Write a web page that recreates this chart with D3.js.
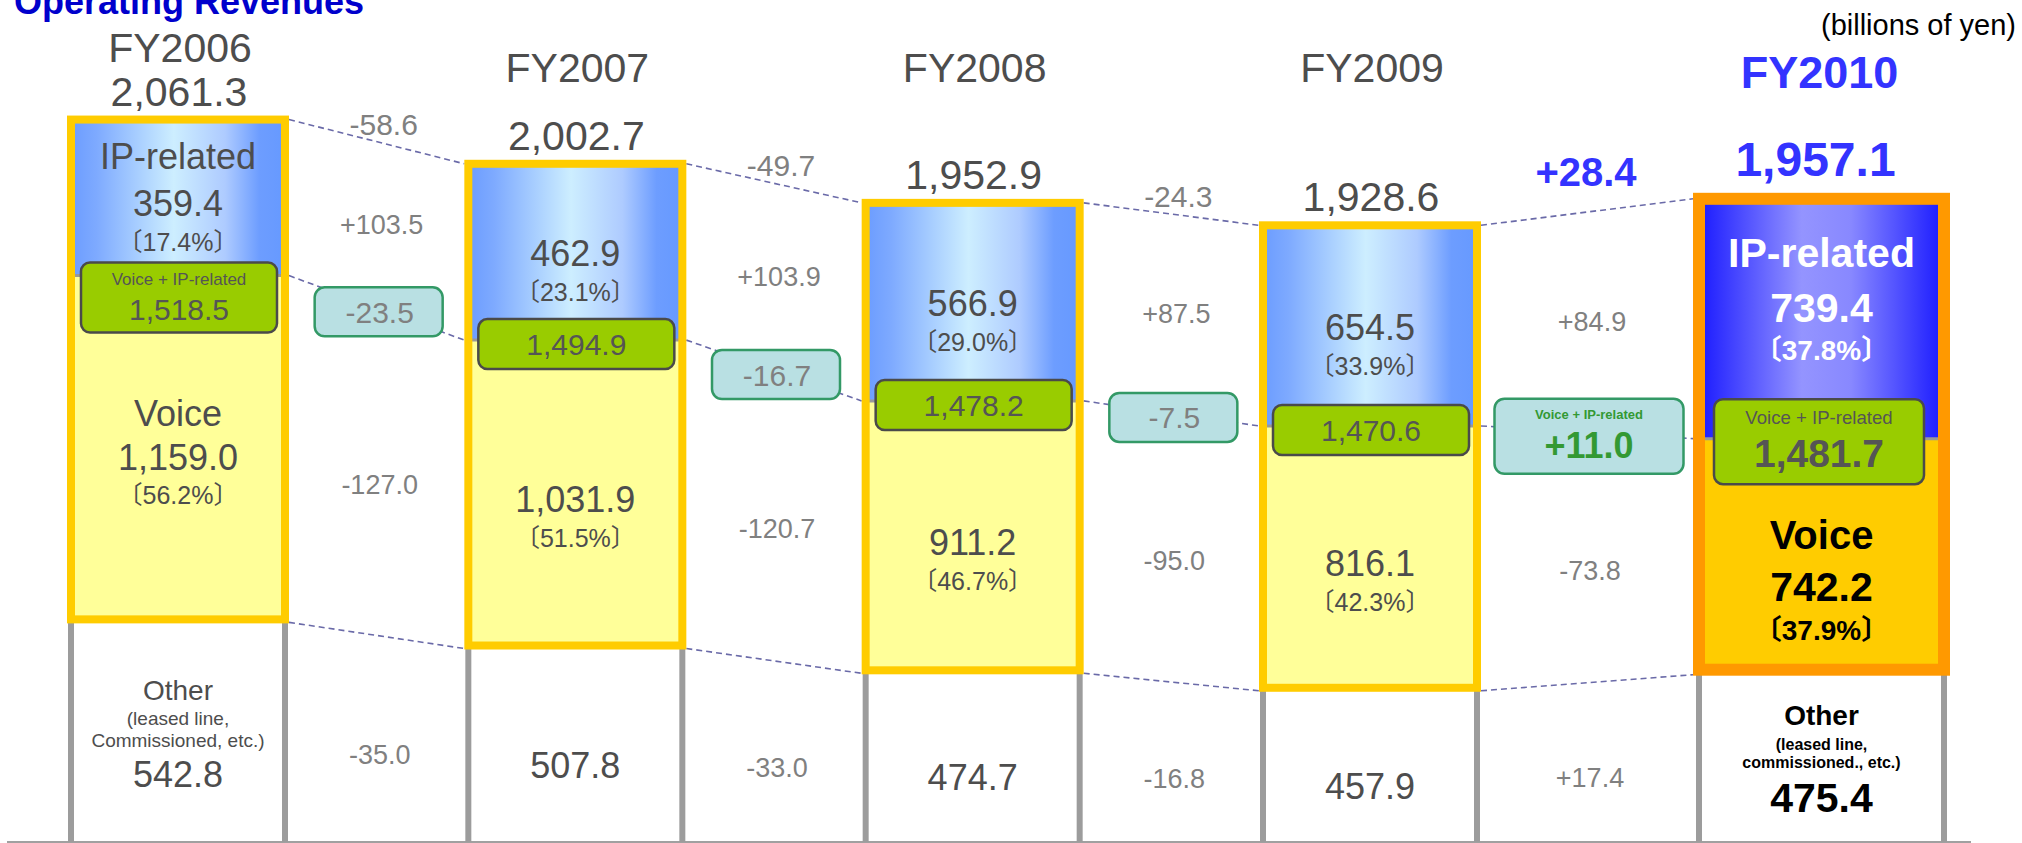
<!DOCTYPE html>
<html>
<head>
<meta charset="utf-8">
<script src="https://cdn.jsdelivr.net/npm/d3@7"></script>
<style>
body { margin: 0; background: #fff; }
svg { display: block; font-family: "Liberation Sans", Arial, "Noto Sans CJK JP", sans-serif; }
</style>
</head>
<body>
<div id="chart"></div>
<script>
var width = 2022,
    height = 843;

var years = ["FY2006", "FY2007", "FY2008", "FY2009", "FY2010"];
var totals = [2061.3, 2002.7, 1952.9, 1928.6, 1957.1];
var ipRelated = [359.4, 462.9, 566.9, 654.5, 739.4];
var voice = [1159.0, 1031.9, 911.2, 816.1, 742.2];
var other = [542.8, 507.8, 474.7, 457.9, 475.4];
var voiceIp = [1518.5, 1494.9, 1478.2, 1470.6, 1481.7];
var ipShare = [17.4, 23.1, 29.0, 33.9, 37.8];
var voiceShare = [56.2, 51.5, 46.7, 42.3, 37.9];
var otherNote = [["(leased line,", "Commissioned, etc.)"], null, null, null, ["(leased line,", "commissioned., etc.)"]];

// year-on-year changes, gap i is between years[i] and years[i+1]
var dTotal = [-58.6, -49.7, -24.3, 28.4];
var dIp = [103.5, 103.9, 87.5, 84.9];
var dVoiceIp = [-23.5, -16.7, -7.5, 11.0];
var dVoice = [-127.0, -120.7, -95.0, -73.8];
var dOther = [-35.0, -33.0, -16.8, 17.4];

var loc = d3.formatLocale({decimal: ".", thousands: ",", grouping: [3], currency: ["", ""], minus: "-"});
var fmt = loc.format(",.1f"),
    fmtD = loc.format("+.1f"),
    fmtP = function(v) { return "\u3014" + loc.format(".1f")(v) + "%\u3015"; };

var baseY = 842;
// the slide is drawn schematically, so the value axis is piecewise
var y = d3.scaleLinear()
  .domain([0, 450, 475, 550, 1220, 1390, 1700, 1930, 1960, 2070])
  .range([baseY, 696, 670, 614, 438, 400, 276, 225, 196, 113]);

var colX = d3.scaleLinear()
  .domain([0, 3, 4])
  .range([178, 1370, 1821.5]);

var txtCol = "#4d4d4d";

var svg = d3.select("#chart")
  .append("svg")
  .attr("width", width)
  .attr("height", height);

var defs = svg.append("defs");
function grad(id, stops) {
  var lg = defs.append("linearGradient").attr("id", id)
    .attr("x1", "0").attr("x2", "1").attr("y1", "0").attr("y2", "0");
  stops.forEach(function(s) {
    lg.append("stop").attr("offset", s[0]).attr("stop-color", s[1]);
  });
}
grad("ipGrad", [[0, "#6b9cff"], [0.12, "#7eaaff"], [0.48, "#cdeeff"], [0.72, "#aecbff"], [0.88, "#6d9dff"], [1, "#6699ff"]]);
grad("ipGradHL", [[0, "#1a1aff"], [0.42, "#9494ff"], [0.62, "#8888ff"], [1, "#1a1aff"]]);

var cols = years.map(function(d, i) {
  var hl = i === years.length - 1;
  var c = {
    i: i, year: d, hl: hl,
    cx: colX(i),
    w: hl ? 245 : 214,
    sw: hl ? 12 : 8,
    yTop: y(totals[i]),
    yMid: y(other[i] + voice[i]),
    yBot: y(other[i])
  };
  c.sub = hl || i === 0;
  c.boxH = hl ? 85 : (i === 0 ? 70 : 50);
  c.boxTop = hl ? c.yMid + 3 - c.boxH / 2 : (i === 0 ? c.yMid - 13 : c.yMid + 4 - c.boxH / 2);
  c.boxX = hl ? c.cx - c.w / 2 + 15 : c.cx - c.w / 2 + 10;
  c.boxW = hl ? c.w - 35 : c.w - 18;
  c.left = c.cx - c.w / 2 - c.sw / 2;
  c.right = c.cx + c.w / 2 + c.sw / 2;
  return c;
});

function text(g, x, yy, s, size, fill, bold, anchor) {
  return g.append("text")
    .attr("x", x)
    .attr("y", yy)
    .attr("text-anchor", anchor || "middle")
    .attr("font-size", size + "px")
    .attr("font-weight", bold ? "bold" : "normal")
    .attr("fill", fill)
    .text(s);
}

// title and unit
text(svg, 14, 14, "Operating Revenues", 36, "#0000cc", true, "start");
text(svg, 2016, 35, "(billions of yen)", 29, "#000", false, "end");

// baseline
svg.append("line")
  .attr("x1", 7).attr("x2", 1971)
  .attr("y1", baseY).attr("y2", baseY)
  .attr("stroke", "#a0a0a0").attr("stroke-width", 2);

// dashed connectors between columns
var gLines = svg.append("g");
d3.range(cols.length - 1).forEach(function(k) {
  var a = cols[k], b = cols[k + 1];
  [["yTop", 0], ["yMid", 0], ["yBot", 1]].forEach(function(p) {
    gLines.append("line")
      .attr("x1", a.right).attr("x2", b.left)
      .attr("y1", a[p[0]] + p[1] * (a.sw / 2 - 1))
      .attr("y2", b[p[0]] + p[1] * (b.sw / 2 - 1))
      .attr("stroke", "#6a6aa8")
      .attr("stroke-width", 1.6)
      .attr("stroke-dasharray", "6,4");
  });
});

// columns
var gBars = svg.append("g");
cols.forEach(function(c) {
  var g = gBars.append("g");
  var x0 = c.cx - c.w / 2, x1 = c.cx + c.w / 2;

  g.append("rect")
    .attr("x", x0).attr("y", c.yTop)
    .attr("width", c.w).attr("height", c.yMid - c.yTop)
    .attr("fill", c.hl ? "url(#ipGradHL)" : "url(#ipGrad)");
  g.append("rect")
    .attr("x", x0).attr("y", c.yMid)
    .attr("width", c.w).attr("height", c.yBot - c.yMid)
    .attr("fill", c.hl ? "#ffcc00" : "#ffff99");
  g.append("line")
    .attr("x1", x0).attr("x2", x1)
    .attr("y1", c.yMid).attr("y2", c.yMid)
    .attr("stroke", "#999").attr("stroke-width", 3);

  [x0, x1].forEach(function(xx) {
    g.append("line")
      .attr("x1", xx).attr("x2", xx)
      .attr("y1", c.yBot).attr("y2", baseY)
      .attr("stroke", "#9c9c9c").attr("stroke-width", 6);
  });

  g.append("rect")
    .attr("x", x0).attr("y", c.yTop)
    .attr("width", c.w).attr("height", c.yBot - c.yTop)
    .attr("fill", "none")
    .attr("stroke", c.hl ? "#ff9900" : "#ffcc00")
    .attr("stroke-width", c.sw);

  // voice + IP-related box
  g.append("rect")
    .attr("x", c.boxX).attr("y", c.boxTop)
    .attr("width", c.boxW).attr("height", c.boxH)
    .attr("rx", 9).attr("ry", 9)
    .attr("fill", "#99cc00")
    .attr("stroke", "#4a4a4a").attr("stroke-width", 2.5);
  var bx = c.boxX + c.boxW / 2;
  if (c.hl) {
    text(g, bx, c.boxTop + 25, "Voice + IP-related", 18.6, "#555", false);
    text(g, bx, c.boxTop + 68, fmt(voiceIp[c.i]), 39, "#555", true);
  } else if (c.sub) {
    text(g, bx, c.boxTop + 22, "Voice + IP-related", 17, "#555", false);
    text(g, bx, c.boxTop + 57, fmt(voiceIp[c.i]), 30, "#555", false);
  } else {
    text(g, bx, c.boxTop + c.boxH / 2 + 11, fmt(voiceIp[c.i]), 30, "#555", false);
  }

  // headers
  if (c.hl) {
    text(g, c.cx - 2, 88, c.year, 45, "#3333ff", true);
    text(g, c.cx - 6, c.yTop - c.sw / 2 - 17, fmt(totals[c.i]), 48, "#3333ff", true);
  } else {
    text(g, c.cx + 2, Math.min(82, c.yTop - 58), c.year, 41, txtCol, false);
    text(g, c.cx + 1, c.yTop - c.sw / 2 - 10, fmt(totals[c.i]), 41, txtCol, false);
  }

  // IP-related segment
  var ipM = (c.yTop + c.boxTop) / 2;
  if (c.hl) {
    text(g, c.cx, ipM - 32, "IP-related", 41, "#fff", true);
    text(g, c.cx, ipM + 23, fmt(ipRelated[c.i]), 41, "#fff", true);
    text(g, c.cx, ipM + 61, fmtP(ipShare[c.i]), 28, "#fff", true);
  } else {
    if (c.sub) { text(g, c.cx, ipM - 22, "IP-related", 36, txtCol, false); }
    text(g, c.cx, ipM + 25, fmt(ipRelated[c.i]), 36, txtCol, false);
    text(g, c.cx, ipM + 60, fmtP(ipShare[c.i]), 25, txtCol, false);
  }

  // voice segment
  var vM = (c.boxTop + c.boxH + c.yBot) / 2;
  if (c.hl) {
    text(g, c.cx, vM - 28, "Voice", 40, "#000", true);
    text(g, c.cx, vM + 24, fmt(voice[c.i]), 41, "#000", true);
    text(g, c.cx, vM + 63, fmtP(voiceShare[c.i]), 28, "#000", true);
  } else if (c.sub) {
    text(g, c.cx, vM - 50, "Voice", 36, txtCol, false);
    text(g, c.cx, vM - 6, fmt(voice[c.i]), 36, txtCol, false);
    text(g, c.cx, vM + 28, fmtP(voiceShare[c.i]), 25, txtCol, false);
  } else {
    text(g, c.cx, vM + 5, fmt(voice[c.i]), 36, txtCol, false);
    text(g, c.cx, vM + 40, fmtP(voiceShare[c.i]), 25, txtCol, false);
  }

  // other segment
  var oM = (c.yBot + baseY) / 2;
  var note = otherNote[c.i];
  if (note) {
    var col = c.hl ? "#000" : txtCol;
    text(g, c.cx, oM - 31, "Other", 28, col, c.hl);
    text(g, c.cx, oM - 5.5, note[0], c.hl ? 16 : 19, col, c.hl);
    text(g, c.cx, oM + (c.hl ? 12 : 16.5), note[1], c.hl ? 16 : 19, col, c.hl);
    text(g, c.cx, oM + 56.5, fmt(other[c.i]), c.hl ? 41 : 36, col, c.hl);
  } else {
    text(g, c.cx, oM + 34, fmt(other[c.i]), 36, txtCol, false);
  }
});

// change labels between columns
var gGap = svg.append("g");
d3.range(cols.length - 1).forEach(function(k) {
  var a = cols[k], b = cols[k + 1];
  var last = b.hl;
  var gx = (a.right + b.left) / 2 + 3;
  var grey = "#808080";

  var tTop = (a.yTop + b.yTop) / 2;
  if (last) {
    text(gGap, gx - 4, tTop - 26, fmtD(dTotal[k]), 40, "#3333ff", true);
  } else {
    text(gGap, gx + 4, tTop - 7, fmtD(dTotal[k]), 30, grey, false);
  }

  var ipMid = ((a.yTop + a.yMid) / 2 + (b.yTop + b.yMid) / 2) / 2;
  text(gGap, gx + 2, ipMid + 9, fmtD(dIp[k]), 27, grey, false);

  var bw = last ? 189 : 128, bh = last ? 75 : 49;
  var bc = (a.yMid + b.yMid) / 2 + 4;
  gGap.append("rect")
    .attr("x", gx - bw / 2 - 1).attr("y", bc - bh / 2)
    .attr("width", bw).attr("height", bh)
    .attr("rx", 10).attr("ry", 10)
    .attr("fill", "#b9e0e3")
    .attr("stroke", "#339966").attr("stroke-width", 2.5);
  if (last) {
    text(gGap, gx - 1, bc - bh / 2 + 20, "Voice + IP-related", 13, "#339933", true);
    text(gGap, gx - 1, bc - bh / 2 + 59, fmtD(dVoiceIp[k]), 36, "#339933", true);
  } else {
    text(gGap, gx, bc + 11, fmtD(dVoiceIp[k]), 30, grey, false);
  }

  var vMid = ((a.yMid + a.yBot) / 2 + (b.yMid + b.yBot) / 2) / 2;
  text(gGap, gx, vMid + 24, fmtD(dVoice[k]), 27, grey, false);

  var oMid = ((a.yBot + baseY) / 2 + (b.yBot + baseY) / 2) / 2;
  text(gGap, gx, oMid + 27, fmtD(dOther[k]), 27, grey, false);
});
</script>
</body>
</html>
